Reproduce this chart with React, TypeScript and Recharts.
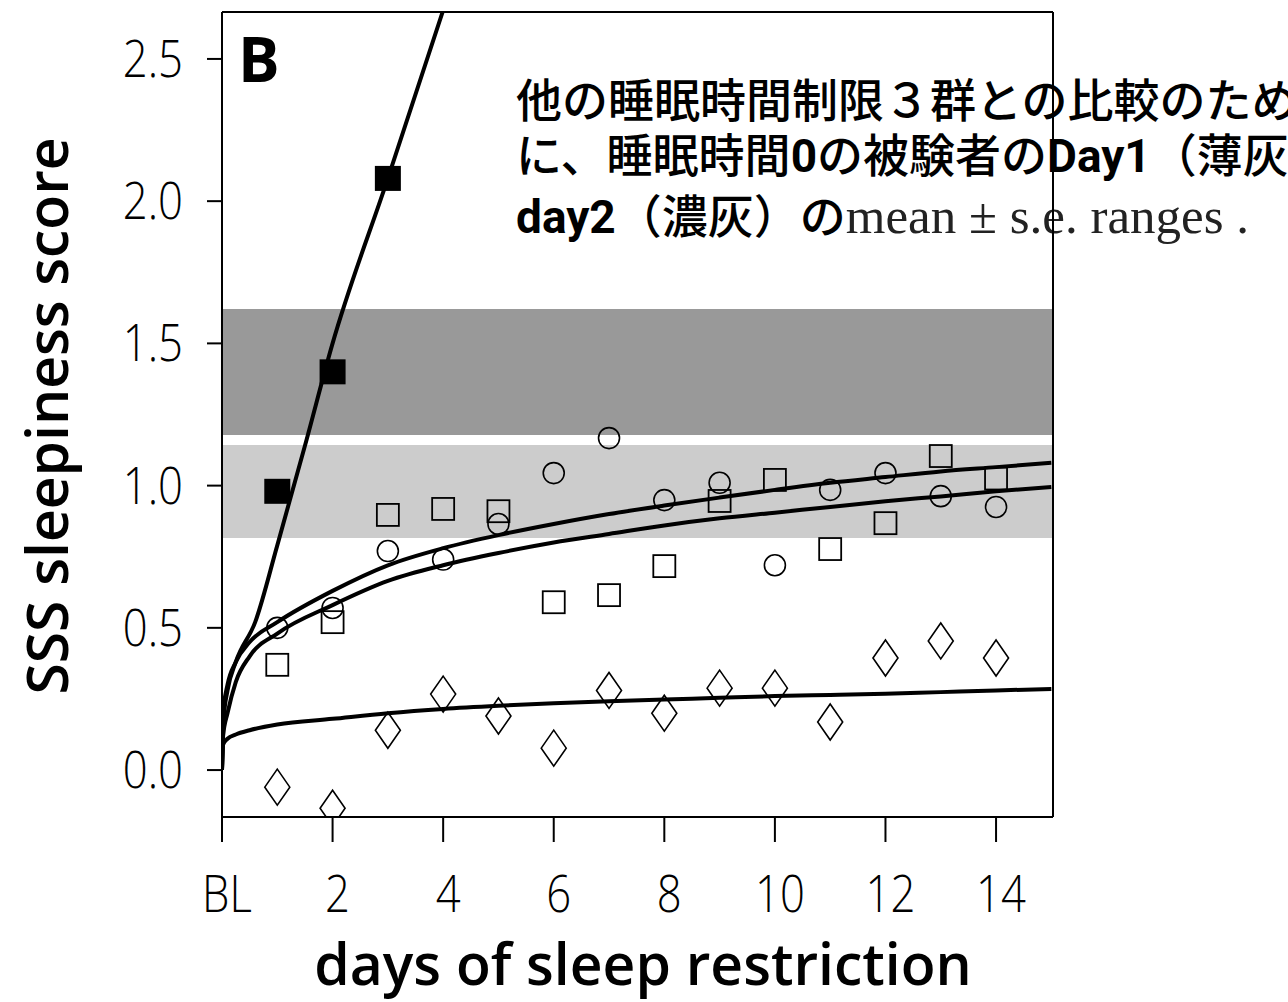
import {
  ComposedChart,
  Line,
  Scatter,
  XAxis,
  YAxis,
  ReferenceArea,
  ReferenceLine,
} from "recharts";

// days of restriction for the group means
const days = [1, 2, 3, 4, 5, 6, 7, 8, 9, 10, 11, 12, 13, 14];

// open circles, open squares, open diamonds (SSS score)
const circleScores = [0.5, 0.57, 0.77, 0.74, 0.865, 1.044, 1.167, 0.949, 1.01, 0.72, 0.985, 1.044, 0.963, 0.925];
const squareScores = [0.37, 0.52, 0.897, 0.918, 0.91, 0.59, 0.615, 0.717, 0.946, 1.02, 0.777, 0.868, 1.104, 1.025];
const diamondScores = [-0.06, -0.134, 0.14, 0.267, 0.19, 0.077, 0.28, 0.2, 0.288, 0.288, 0.169, 0.394, 0.454, 0.394];

// total sleep deprivation group (filled squares)
const tsdDays = [1, 2, 3];
const tsdScores = [0.98, 1.4, 2.08];

// fitted curves, sampled along the drawn lines
const fitDays = [0, 0.02, 0.1, 0.25, 0.5, 1, 2, 3, 4, 5, 6, 7, 8, 9, 10, 11, 12, 13, 14, 15];
const fitUpper = [0, 0.2, 0.3, 0.38, 0.45, 0.52, 0.63, 0.72, 0.78, 0.826, 0.865, 0.9, 0.93, 0.958, 0.985, 1.01, 1.03, 1.05, 1.065, 1.08];
const fitLower = [0, 0.12, 0.2, 0.31, 0.4, 0.48, 0.58, 0.665, 0.72, 0.763, 0.8, 0.83, 0.86, 0.885, 0.905, 0.925, 0.945, 0.962, 0.98, 0.995];
const fitDiamond = [0, 0.09, 0.11, 0.125, 0.14, 0.16, 0.18, 0.2, 0.215, 0.226, 0.235, 0.242, 0.248, 0.254, 0.26, 0.264, 0.268, 0.274, 0.28, 0.285];

const tsdFitDays = [0, 0.03, 0.1, 0.25, 0.6, 1, 1.5, 2, 3, 3.99];
const tsdFit = [0, 0.18, 0.28, 0.38, 0.52, 0.79, 1.14, 1.5, 2.08, 2.665];

// mean ± s.e. bands of the sleep-deprived group
const day1Band = [0.816, 1.143];
const day2Band = [1.178, 1.621];

const xDomain = [0, 15.03];
const yDomain = [-0.165, 2.665];
const xTicks = [0, 2, 4, 6, 8, 10, 12, 14];
const yTicks = [0, 0.5, 1, 1.5, 2, 2.5];

const pts = (xs: number[], ys: number[]) => xs.map((x, i) => ({ x, y: ys[i] }));

const OpenCircle = ({ cx, cy }: any) => (
  <circle cx={cx} cy={cy} r={10.5} fill="none" stroke="#000" strokeWidth={1.6} />
);
const OpenSquare = ({ cx, cy }: any) => (
  <rect x={cx - 11} y={cy - 11} width={22} height={22} fill="none" stroke="#000" strokeWidth={1.8} />
);
const FilledSquare = ({ cx, cy }: any) => (
  <rect x={cx - 13} y={cy - 12.5} width={26} height={25} fill="#000" />
);
const Diamond = ({ cx, cy }: any) => (
  <path
    d={`M${cx},${cy - 18} L${cx + 12.5},${cy} L${cx},${cy + 18} L${cx - 12.5},${cy} Z`}
    fill="none"
    stroke="#000"
    strokeWidth={1.6}
  />
);

const tickFont = { fontFamily: "Open Sans", fontWeight: 300, fontSize: 52, fill: "#000" };

const YTick = ({ x, y, payload }: any) => (
  <text transform={`translate(${x},${y + 18}) scale(0.84,1)`} textAnchor="end" {...tickFont}>
    {payload.value.toFixed(1)}
  </text>
);

const XTick = ({ x, y, payload }: any) => (
  <text transform={`translate(${x + 5},${y + 68}) scale(0.84,1)`} textAnchor="middle" {...tickFont}>
    {payload.value === 0 ? "BL" : payload.value}
  </text>
);

const cjk = "Noto Sans CJK JP";
const latinBold = "Roboto";

const Note = () => (
  <svg width={1288} height={1002} style={{ position: "absolute", left: 0, top: 0 }}>
    <text x={516} y={117} fontFamily={cjk} fontWeight={500} fontSize={46} fill="#000">
      他の睡眠時間制限３群との比較のため
    </text>
    <text x={516} y={172} fontSize={46} fill="#000">
      <tspan fontFamily={cjk} fontWeight={500}>に、睡眠時間</tspan>
      <tspan fontFamily={latinBold} fontWeight="bold">0</tspan>
      <tspan fontFamily={cjk} fontWeight={500}>の被験者の</tspan>
      <tspan fontFamily={latinBold} fontWeight="bold">Day1</tspan>
      <tspan fontFamily={cjk} fontWeight={500}>（薄灰）と</tspan>
    </text>
    <text x={516} y={233} fontSize={46} fill="#000">
      <tspan fontFamily={latinBold} fontWeight="bold">day2</tspan>
      <tspan fontFamily={cjk} fontWeight={500}>（濃灰）の</tspan>
      <tspan fontFamily="Liberation Serif" fontSize={51} fill="#222">mean ± s.e. ranges .</tspan>
    </text>
  </svg>
);

const App = () => {
  return (
    <div
      style={{
        position: "absolute",
        left: 0,
        top: 0,
        width: 1288,
        height: 1002,
        overflow: "hidden",
        background: "#fff",
      }}
    >
      <Note />
      <div style={{ position: "absolute", left: 0, top: 0 }}>
        <ComposedChart width={1288} height={1002} margin={{ top: 12, right: 235, bottom: 0, left: 0 }}>
          <XAxis
            type="number"
            dataKey="x"
            domain={xDomain}
            ticks={xTicks}
            interval={0}
            allowDataOverflow
            height={185}
            tickSize={25}
            tickMargin={2}
            axisLine={{ stroke: "#000", strokeWidth: 2 }}
            tickLine={{ stroke: "#000", strokeWidth: 2 }}
            tick={<XTick />}
            label={{
              content: () => (
                <text
                  x={643}
                  y={985}
                  textAnchor="middle"
                  fontFamily="Open Sans"
                  fontWeight={600}
                  fontSize={57}
                  fill="#000"
                >
                  days of sleep restriction
                </text>
              ),
            }}
          />
          <YAxis
            type="number"
            domain={yDomain}
            ticks={yTicks}
            interval={0}
            allowDataOverflow
            width={222}
            tickSize={15}
            tickMargin={24}
            axisLine={{ stroke: "#000", strokeWidth: 2 }}
            tickLine={{ stroke: "#000", strokeWidth: 2 }}
            tick={<YTick />}
            label={{
              content: () => (
                <text
                  transform="translate(68,416) rotate(-90)"
                  textAnchor="middle"
                  fontFamily="Open Sans"
                  fontWeight={600}
                  fontSize={57}
                  fill="#000"
                >
                  SSS sleepiness score
                </text>
              ),
            }}
          />

          <ReferenceArea y1={day1Band[0]} y2={day1Band[1]} fill="#cccccc" fillOpacity={1} stroke="none" />
          <ReferenceArea y1={day2Band[0]} y2={day2Band[1]} fill="#999999" fillOpacity={1} stroke="none" />

          <Scatter data={pts(days, circleScores)} dataKey="y" shape={<OpenCircle />} isAnimationActive={false} />
          <Scatter data={pts(days, squareScores)} dataKey="y" shape={<OpenSquare />} isAnimationActive={false} />
          <Scatter data={pts(days, diamondScores)} dataKey="y" shape={<Diamond />} isAnimationActive={false} />
          <Scatter data={pts(tsdDays, tsdScores)} dataKey="y" shape={<FilledSquare />} isAnimationActive={false} />

          <Line data={pts(fitDays, fitUpper)} dataKey="y" type="monotone" stroke="#000" strokeWidth={4} dot={false} isAnimationActive={false} />
          <Line data={pts(fitDays, fitLower)} dataKey="y" type="monotone" stroke="#000" strokeWidth={4} dot={false} isAnimationActive={false} />
          <Line data={pts(fitDays, fitDiamond)} dataKey="y" type="monotone" stroke="#000" strokeWidth={4} dot={false} isAnimationActive={false} />
          <Line data={pts(tsdFitDays, tsdFit)} dataKey="y" type="monotone" stroke="#000" strokeWidth={4} dot={false} isAnimationActive={false} />

          {/* top and right edges of the frame */}
          <ReferenceLine y={yDomain[1]} stroke="#000" strokeWidth={2} ifOverflow="visible" />
          <ReferenceLine x={xDomain[1]} stroke="#000" strokeWidth={2} ifOverflow="visible" />

          <text x={238} y={82} fontFamily="Open Sans" fontWeight="bold" fontSize={62} fill="#000">
            B
          </text>
        </ComposedChart>
      </div>
    </div>
  );
};

export default App;
